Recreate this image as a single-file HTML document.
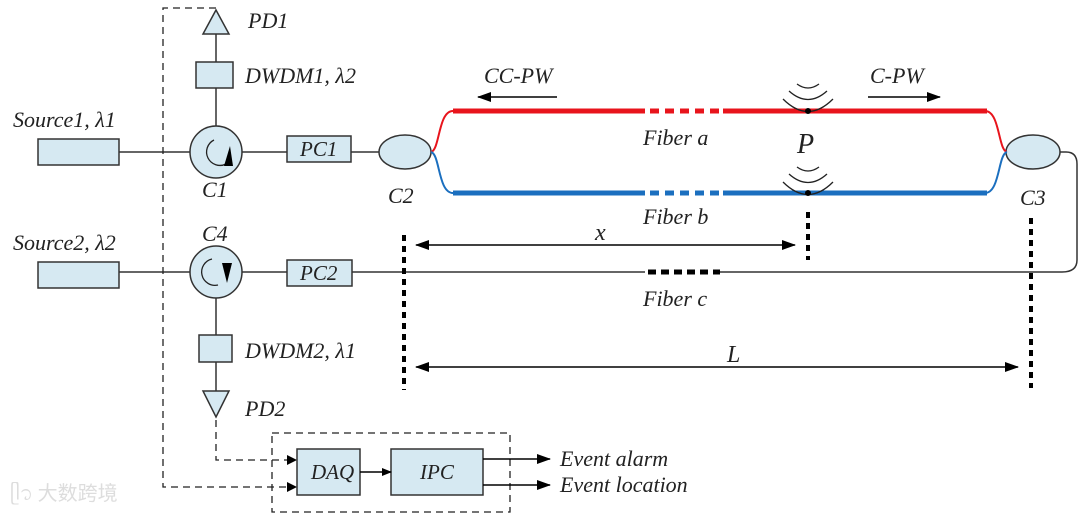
<!DOCTYPE html>
<html><head><meta charset="utf-8"><style>
html,body{margin:0;padding:0;background:#fff;}
svg{display:block;}
svg text{font-family:"Liberation Serif","Times New Roman",serif !important;font-style:italic;fill:#222;}
</style></head><body>
<svg width="1080" height="513" viewBox="0 0 1080 513" xmlns="http://www.w3.org/2000/svg" font-family="Liberation Serif, serif">
<defs>
<marker id="ar" markerWidth="10" markerHeight="8" refX="9" refY="4" orient="auto" markerUnits="userSpaceOnUse"><path d="M0,0 L10,4 L0,8 z" fill="#000"/></marker>
<marker id="al" markerWidth="14" markerHeight="10" refX="13" refY="5" orient="auto" markerUnits="userSpaceOnUse"><path d="M0,0 L14,5 L0,10 z" fill="#000"/></marker>
<marker id="as" markerWidth="14" markerHeight="10" refX="1" refY="5" orient="auto" markerUnits="userSpaceOnUse"><path d="M14,0 L0,5 L14,10 z" fill="#000"/></marker>
</defs>
<g stroke="#333" stroke-width="1.5" fill="none">
<line x1="119" y1="152" x2="190" y2="152"/>
<line x1="242" y1="152" x2="287" y2="152"/>
<line x1="351" y1="152" x2="379" y2="152"/>
<line x1="216" y1="34" x2="216" y2="62"/>
<line x1="216" y1="88" x2="216" y2="126"/>
<line x1="119" y1="272" x2="190" y2="272"/>
<line x1="242" y1="272" x2="287" y2="272"/>
<line x1="352" y1="272" x2="645" y2="272"/>
<line x1="720" y1="272" x2="1062" y2="272"/>
<path d="M1060,152 L1066,152 Q1077,152 1077,164 L1077,260 Q1077,272 1062,272"/>
<line x1="216" y1="298" x2="216" y2="335"/>
<line x1="216" y1="362" x2="216" y2="391"/>
</g>
<g stroke="#222" stroke-width="1.3" fill="none" stroke-dasharray="7,5">
<polyline points="216,8 163,8 163,487 295,487"/>
<polyline points="216,420 216,460 295,460"/>
<rect x="272" y="433" width="238" height="79"/>
</g>
<path d="M287,455 L297,460 L287,465z" fill="#000"/>
<path d="M287,482 L297,487 L287,492z" fill="#000"/>
<g fill="#d6e9f2" stroke="#333" stroke-width="1.5">
<rect x="38" y="139" width="81" height="26"/>
<rect x="38" y="262" width="81" height="26"/>
<rect x="196" y="62" width="37" height="26"/>
<rect x="199" y="335" width="33" height="27"/>
<rect x="287" y="136" width="64" height="26"/>
<rect x="287" y="260" width="65" height="26"/>
<polygon points="216,10 229,34 203,34"/>
<polygon points="216,417 229,391 203,391"/>
<circle cx="216" cy="152" r="26"/>
<circle cx="216" cy="272" r="26"/>
<ellipse cx="405" cy="152" rx="26" ry="17"/>
<ellipse cx="1033" cy="152" rx="27" ry="17"/>
<rect x="297" y="449" width="63" height="46"/>
<rect x="391" y="449" width="92" height="46"/>
</g>
<path d="M226,164 A13,13 0 1 1 214,140" stroke="#222" stroke-width="1.3" fill="none"/>
<path d="M224,166 L233,166 L230,146 z" fill="#000"/>
<path d="M212,259 A13,13 0 1 0 218,285" stroke="#222" stroke-width="1.3" fill="none"/>
<path d="M222,263 L232,263 L227,283 z" fill="#000"/>
<path d="M431,152 C440,150 438,111 453,111" stroke="#e8141c" stroke-width="2" fill="none"/>
<path d="M431,152 C440,154 438,193 453,193" stroke="#1b6fbf" stroke-width="2" fill="none"/>
<path d="M1007,152 C998,150 1000,111 985,111" stroke="#e8141c" stroke-width="2" fill="none"/>
<path d="M1007,152 C998,154 1000,193 985,193" stroke="#1b6fbf" stroke-width="2" fill="none"/>
<g stroke-width="5">
<line x1="453" y1="111" x2="645" y2="111" stroke="#e8141c"/>
<line x1="650" y1="111" x2="720" y2="111" stroke="#e8141c" stroke-dasharray="9,6"/>
<line x1="723" y1="111" x2="987" y2="111" stroke="#e8141c"/>
<line x1="453" y1="193" x2="645" y2="193" stroke="#1b6fbf"/>
<line x1="650" y1="193" x2="720" y2="193" stroke="#1b6fbf" stroke-dasharray="9,6"/>
<line x1="723" y1="193" x2="987" y2="193" stroke="#1b6fbf"/>
<line x1="648" y1="272" x2="720" y2="272" stroke="#000" stroke-dasharray="8,5"/>
</g>
<g stroke="#222" stroke-width="1.3" fill="none">
<path d="M783,99 Q808,124 833,99"/><path d="M789,91 Q808,108 827,91"/><path d="M797,84 Q808,92 819,84"/>
<path d="M783,182 Q808,207 833,182"/><path d="M789,174 Q808,191 827,174"/><path d="M797,167 Q808,175 819,167"/>
</g>
<circle cx="808" cy="111" r="3" fill="#000"/><circle cx="808" cy="193" r="3" fill="#000"/>
<g stroke="#000" stroke-width="4" stroke-dasharray="6,5">
<line x1="404" y1="235" x2="404" y2="390"/>
<line x1="808" y1="212" x2="808" y2="260"/>
<line x1="1031" y1="218" x2="1031" y2="388"/>
</g>
<g stroke="#000" stroke-width="1.5">
<line x1="416" y1="245" x2="795" y2="245" marker-start="url(#as)" marker-end="url(#al)"/>
<line x1="416" y1="367" x2="1018" y2="367" marker-start="url(#as)" marker-end="url(#al)"/>
<line x1="557" y1="97" x2="478" y2="97" marker-end="url(#al)"/>
<line x1="868" y1="97" x2="940" y2="97" marker-end="url(#al)"/>
<line x1="360" y1="472" x2="391" y2="472" marker-end="url(#ar)"/>
<line x1="483" y1="459" x2="550" y2="459" marker-end="url(#al)"/>
<line x1="483" y1="485" x2="550" y2="485" marker-end="url(#al)"/>
</g>
<g font-size="22">
<text x="248" y="28">PD1</text>
<text x="245" y="83">DWDM1, λ2</text>
<text x="13" y="127">Source1, λ1</text>
<text x="13" y="250">Source2, λ2</text>
<text x="202" y="197">C1</text>
<text x="202" y="241">C4</text>
<text x="388" y="203">C2</text>
<text x="1020" y="205">C3</text>
<text x="245" y="358">DWDM2, λ1</text>
<text x="245" y="416">PD2</text>
<text x="484" y="83">CC-PW</text>
<text x="870" y="83">C-PW</text>
<text x="643" y="145">Fiber a</text>
<text x="643" y="224">Fiber b</text>
<text x="643" y="306">Fiber c</text>
<text x="595" y="240" font-size="24">x</text>
<text x="727" y="362" font-size="24">L</text>
<text x="797" y="153" font-size="28">P</text>
<text x="560" y="466">Event alarm</text>
<text x="560" y="492">Event location</text>
</g>
<text x="300" y="156" font-size="21" fill="#444">PC1</text>
<text x="300" y="280" font-size="21" fill="#444">PC2</text>
<text x="311" y="479" font-size="21">DAQ</text>
<text x="420" y="479" font-size="21">IPC</text>
<text x="10" y="500" font-size="20" style="font-style:normal;font-family:'Noto Sans CJK SC',sans-serif !important;fill:#ddd">ᥫ᭡ 大数跨境</text>
</svg>
</body></html>
